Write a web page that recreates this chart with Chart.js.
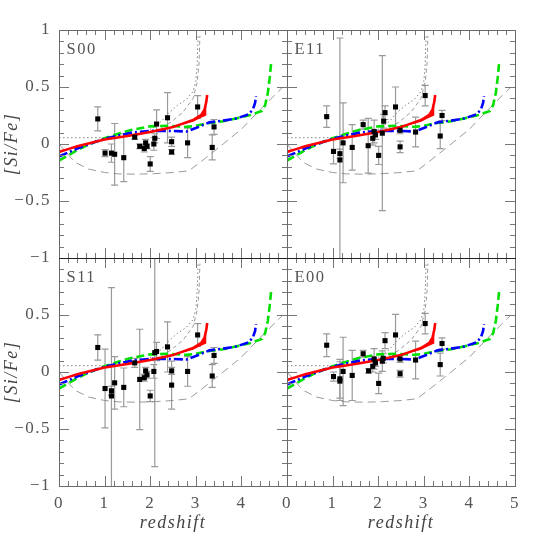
<!DOCTYPE html>
<html>
<head>
<meta charset="utf-8">
<script src="https://cdn.jsdelivr.net/npm/chart.js@4.4.0/dist/chart.umd.min.js"></script>
<style>
  html, body { margin: 0; padding: 0; background: #fff; }
  #wrap { position: relative; width: 545px; height: 545px; }
  #wrap canvas { position: absolute; left: 0; top: 0; }
</style>
</head>
<body>
<div id="wrap">
  <canvas id="c-s00" width="545" height="545"></canvas>
  <canvas id="c-e11" width="545" height="545"></canvas>
  <canvas id="c-s11" width="545" height="545"></canvas>
  <canvas id="c-e00" width="545" height="545"></canvas>
</div>
<script>
// model tracks, same in every panel
var redZ = [0, 0.2, 0.4, 0.6, 0.8, 1.0, 1.5, 2.0, 2.5, 2.65, 2.94, 3.12, 3.19, 3.23, 3.25];
var redY = [-0.07, -0.045, -0.02, 0.0, 0.02, 0.04, 0.07, 0.105, 0.15, 0.17, 0.21, 0.255, 0.30, 0.37, 0.43];
var redBandZ = [2.65, 2.94, 3.12, 3.19, 3.23, 3.23, 3.12, 2.94, 2.65];
var redBandY = [0.17, 0.21, 0.255, 0.30, 0.33, 0.25, 0.23, 0.195, 0.165];

var blueZ = [0, 0.2, 0.4, 0.6, 0.8, 1.0, 1.3, 1.6, 2.0, 2.4, 2.8, 3.0, 3.3, 3.6, 3.9, 4.15, 4.25, 4.3, 4.32];
var blueY = [-0.11, -0.075, -0.04, -0.01, 0.02, 0.045, 0.075, 0.1, 0.115, 0.115, 0.11, 0.14, 0.19, 0.205, 0.225, 0.26, 0.3, 0.36, 0.42];

var greenZ = [0, 0.2, 0.4, 0.6, 0.8, 1.0, 1.3, 1.6, 2.0, 2.4, 2.8, 3.0, 3.3, 3.6, 3.9, 4.2, 4.45, 4.52, 4.58, 4.62, 4.65];
var greenY = [-0.145, -0.1, -0.055, -0.015, 0.02, 0.05, 0.09, 0.125, 0.155, 0.16, 0.15, 0.16, 0.185, 0.2, 0.225, 0.255, 0.29, 0.34, 0.45, 0.58, 0.7];

var dotZ = [0, 0.5, 1.0, 1.3, 1.6, 1.85, 2.06, 2.25, 2.4, 2.6, 2.79, 2.94, 3.0, 3.03, 3.05];
var dotY = [0.055, 0.055, 0.055, 0.06, 0.075, 0.1, 0.14, 0.2, 0.27, 0.34, 0.39, 0.46, 0.55, 0.7, 0.95];

var thinZ = [1.5, 1.9, 2.14, 2.45, 2.72, 2.94, 3.03, 3.07, 3.09];
var thinY = [0.08, 0.1, 0.12, 0.19, 0.28, 0.4, 0.54, 0.7, 0.95];

var lowZ = [0, 0.15, 0.35, 0.65, 1.0, 1.3, 1.7, 2.1, 2.5, 2.85, 3.16, 3.6, 4.0, 4.48, 4.91];
var lowY = [0.0, -0.07, -0.16, -0.22, -0.25, -0.262, -0.265, -0.26, -0.25, -0.235, -0.14, 0.0, 0.13, 0.33, 0.5];

// observed points: redshift, [Si/Fe], error
var s00Z = [0.85, 1.01, 1.15, 1.22, 1.42, 1.66, 1.77, 1.87, 1.90, 1.93, 2.00, 2.08, 2.10, 2.14, 2.38, 2.47, 2.47, 2.82, 3.04, 3.36, 3.40];
var s00Val = [0.22, -0.08, -0.08, -0.09, -0.12, 0.06, -0.02, -0.04, 0.01, -0.02, -0.175, 0.0, 0.05, 0.175, 0.23, 0.02, -0.07, 0.01, 0.325, -0.03, 0.15];
var s00Err = [0.105, 0.03, 0.08, 0.27, 0.21, 0.02, 0.02, 0.03, 0.03, 0.02, 0.065, 0.055, 0.04, 0.125, 0.22, 0.04, 0.02, 0.13, 0.1, 0.11, 0.065];

var e11Z = [0.87, 1.02, 1.16, 1.16, 1.23, 1.43, 1.67, 1.78, 1.88, 1.91, 1.94, 2.01, 2.09, 2.12, 2.15, 2.38, 2.48, 2.48, 2.82, 3.03, 3.36, 3.40];
var e11Val = [0.24, -0.065, -0.085, -0.14, 0.01, -0.03, 0.17, -0.015, 0.05, 0.11, 0.08, -0.10, 0.095, 0.20, 0.275, 0.325, 0.12, -0.025, 0.105, 0.425, 0.07, 0.25];
var e11Err = [0.095, 0.11, 0.04, 1.07, 0.35, 0.2, 0.04, 0.24, 0.06, 0.1, 0.04, 0.08, 0.68, 0.06, 0.06, 0.175, 0.03, 0.05, 0.13, 0.09, 0.11, 0.045];

var s11Z = [0.85, 1.01, 1.15, 1.15, 1.22, 1.42, 1.66, 1.77, 1.87, 1.90, 1.93, 2.00, 2.08, 2.10, 2.14, 2.38, 2.47, 2.47, 2.82, 3.04, 3.36, 3.40];
var s11Val = [0.215, -0.145, -0.165, -0.21, -0.095, -0.135, 0.08, -0.065, -0.05, 0.01, -0.025, -0.21, 0.005, 0.17, 0.18, 0.22, 0.01, -0.115, 0.005, 0.325, -0.035, 0.145];
var s11Err = [0.11, 0.345, 0.04, 0.95, 0.23, 0.17, 0.04, 0.44, 0.03, 0.03, 0.03, 0.05, 0.06, 1.0, 0.08, 0.22, 0.03, 0.21, 0.13, 0.1, 0.1, 0.07];

var e00Z = [0.87, 1.02, 1.16, 1.16, 1.23, 1.43, 1.67, 1.79, 1.88, 1.91, 1.94, 2.01, 2.09, 2.11, 2.15, 2.38, 2.48, 2.48, 2.82, 3.03, 3.36, 3.40];
var e00Val = [0.235, -0.04, -0.06, -0.08, 0.005, -0.03, 0.16, 0.01, 0.05, 0.115, 0.08, -0.10, 0.095, 0.12, 0.275, 0.325, 0.115, -0.015, 0.105, 0.425, 0.065, 0.25];
var e00Err = [0.1, 0.04, 0.17, 0.17, 0.3, 0.22, 0.03, 0.02, 0.05, 0.09, 0.03, 0.09, 0.09, 0.04, 0.07, 0.18, 0.03, 0.03, 0.165, 0.09, 0.1, 0.05];

var xTickLabels = ['0', '1', '2', '3', '4', '5'];
var yTickLabels = ['\u22121', '\u22120.5', '0', '0.5', '1'];

var serif = "'Liberation Serif', 'Times New Roman', serif";
var textGrey = '#555';

function pts(xs, ys) {
  return xs.map(function (x, i) { return {x: x, y: ys[i]}; });
}

// error bars under the points, frame with inward ticks and the panel name on top
var framePlugin = {
  id: 'frame',
  beforeDraw: function (chart) {
    // the original lettering is set a little wider than Times
    chart.ctx.letterSpacing = '1.5px';
  },
  beforeDatasetsDraw: function (chart, args, o) {
    var ctx = chart.ctx, xs = chart.scales.x, ys = chart.scales.y, a = chart.chartArea;
    ctx.save();
    ctx.beginPath();
    ctx.rect(a.left, a.top, a.right - a.left, a.bottom - a.top);
    ctx.clip();
    ctx.strokeStyle = '#9a9a9a';
    ctx.lineWidth = 1.2;
    for (var i = 0; i < o.z.length; i++) {
      var px = xs.getPixelForValue(o.z[i]);
      var hi = ys.getPixelForValue(o.val[i] + o.err[i]);
      var lo = ys.getPixelForValue(o.val[i] - o.err[i]);
      ctx.beginPath();
      ctx.moveTo(px, hi); ctx.lineTo(px, lo);
      ctx.moveTo(px - 3.5, hi); ctx.lineTo(px + 3.5, hi);
      ctx.moveTo(px - 3.5, lo); ctx.lineTo(px + 3.5, lo);
      ctx.stroke();
    }
    ctx.restore();
  },
  afterDraw: function (chart, args, o) {
    var ctx = chart.ctx, xs = chart.scales.x, ys = chart.scales.y, a = chart.chartArea;
    ctx.save();
    ctx.strokeStyle = '#777';
    ctx.lineWidth = 1;
    ctx.beginPath();
    var k, p, len;
    for (k = 0; k <= 25; k++) {
      p = Math.round(xs.getPixelForValue(k * 0.2)) + 0.5;
      len = k % 5 === 0 ? 10 : 5;
      ctx.moveTo(p, a.bottom); ctx.lineTo(p, a.bottom - len);
      ctx.moveTo(p, a.top); ctx.lineTo(p, a.top + len);
    }
    for (k = 0; k <= 20; k++) {
      p = Math.round(ys.getPixelForValue(-1 + k * 0.1)) + 0.5;
      len = k % 5 === 0 ? 10 : 5;
      ctx.moveTo(a.left, p); ctx.lineTo(a.left + len, p);
      ctx.moveTo(a.right, p); ctx.lineTo(a.right - len, p);
    }
    ctx.stroke();
    ctx.strokeStyle = '#6a6a6a';
    ctx.strokeRect(a.left + 0.5, a.top + 0.5, a.right - a.left, a.bottom - a.top);
    if (o.darkEdge) {
      var y = o.darkEdge === 'bottom' ? a.bottom + 0.5 : a.top + 0.5;
      ctx.strokeStyle = '#222';
      ctx.beginPath(); ctx.moveTo(a.left, y); ctx.lineTo(a.right + 1, y); ctx.stroke();
    }
    ctx.fillStyle = textGrey;
    ctx.font = '16.5px ' + serif;
    ctx.textAlign = 'left';
    ctx.textBaseline = 'alphabetic';
    ctx.fillText(o.name, a.left + 7.5, a.top + 23.5);
    ctx.restore();
  }
};

var panels = [
  {id: 'c-s00', name: 'S00', z: s00Z, val: s00Val, err: s00Err, showX: false, showY: true, skipTopY: false, lastX: true,
   pad: {left: 0, right: 258, top: 30, bottom: 287}, darkEdge: 'bottom'},
  {id: 'c-e11', name: 'E11', z: e11Z, val: e11Val, err: e11Err, showX: false, showY: false, skipTopY: false, lastX: true,
   pad: {left: 287, right: 30, top: 30, bottom: 287}, darkEdge: 'bottom'},
  {id: 'c-s11', name: 'S11', z: s11Z, val: s11Val, err: s11Err, showX: true, showY: true, skipTopY: true, lastX: false,
   pad: {left: 0, right: 258, top: 258, bottom: 0}, darkEdge: 'top'},
  {id: 'c-e00', name: 'E00', z: e00Z, val: e00Val, err: e00Err, showX: true, showY: false, skipTopY: true, lastX: true,
   pad: {left: 287, right: 30, top: 258, bottom: 0}, darkEdge: 'top'}
];

function lineSet(xs, ys, color, width, dash, order) {
  return {
    type: 'scatter', data: pts(xs, ys), showLine: true, pointRadius: 0,
    borderColor: color, borderWidth: width, borderDash: dash, tension: 0, fill: false, order: order
  };
}

panels.forEach(function (pn) {
  new Chart(document.getElementById(pn.id), {
    type: 'scatter',
    data: {
      datasets: [
        {type: 'scatter', data: pts(pn.z, pn.val), pointStyle: 'rect', pointRadius: 3.6,
         backgroundColor: '#000', borderColor: '#000', borderWidth: 0, order: 0},
        lineSet(redZ, redY, '#ff0000', 2.6, [], 1),
        {type: 'scatter', data: pts(redBandZ, redBandY), showLine: true, pointRadius: 0,
         borderColor: 'rgba(0,0,0,0)', backgroundColor: '#ff0000', fill: 'shape', order: 1},
        lineSet(blueZ, blueY, '#0000ff', 2.6, [9, 3, 2, 3], 2),
        lineSet(greenZ, greenY, '#00e000', 2.6, [8, 4], 3),
        lineSet(dotZ, dotY, '#808080', 1, [1.5, 2.5], 4),
        lineSet(thinZ, thinY, '#808080', 0.8, [4, 3], 4),
        lineSet(lowZ, lowY, '#808080', 0.8, [8, 5], 4)
      ]
    },
    options: {
      responsive: false,
      animation: false,
      events: [],
      layout: {padding: pn.pad},
      plugins: {
        legend: {display: false},
        tooltip: {enabled: false},
        frame: {name: pn.name, z: pn.z, val: pn.val, err: pn.err, darkEdge: pn.darkEdge}
      },
      scales: {
        x: {
          type: 'linear', min: 0, max: 5, display: pn.showX, position: 'bottom',
          grid: {display: false, drawTicks: false}, border: {display: false},
          ticks: {
            stepSize: 1, autoSkip: false, maxRotation: 0, padding: 7,
            color: textGrey, font: {family: serif, size: 17},
            callback: function (v, i) { return (!pn.lastX && i === xTickLabels.length - 1) ? '' : xTickLabels[i]; }
          },
          title: {display: true, text: 'redshift', color: '#444', padding: {top: 0, bottom: 11},
                  font: {family: serif, size: 18, style: 'italic'}},
          afterFit: function (s) { s.height = pn.showX ? 59 : 0; s.paddingLeft = 0; s.paddingRight = 0; }
        },
        y: {
          type: 'linear', min: -1, max: 1, display: pn.showY, position: 'left',
          grid: {display: false, drawTicks: false}, border: {display: false},
          ticks: {
            stepSize: 0.5, autoSkip: false, padding: 8,
            color: textGrey, font: {family: serif, size: 17},
            callback: function (v, i) { return (pn.skipTopY && i === yTickLabels.length - 1) ? '' : yTickLabels[i]; }
          },
          title: {display: true, text: '[Si/Fe]', color: '#444', padding: {top: 1, bottom: 0},
                  font: {family: serif, size: 18, style: 'italic'}},
          afterFit: function (s) { s.width = pn.showY ? 59 : 0; s.paddingTop = 0; s.paddingBottom = 0; }
        }
      }
    },
    plugins: [framePlugin]
  });
});
</script>
</body>
</html>
